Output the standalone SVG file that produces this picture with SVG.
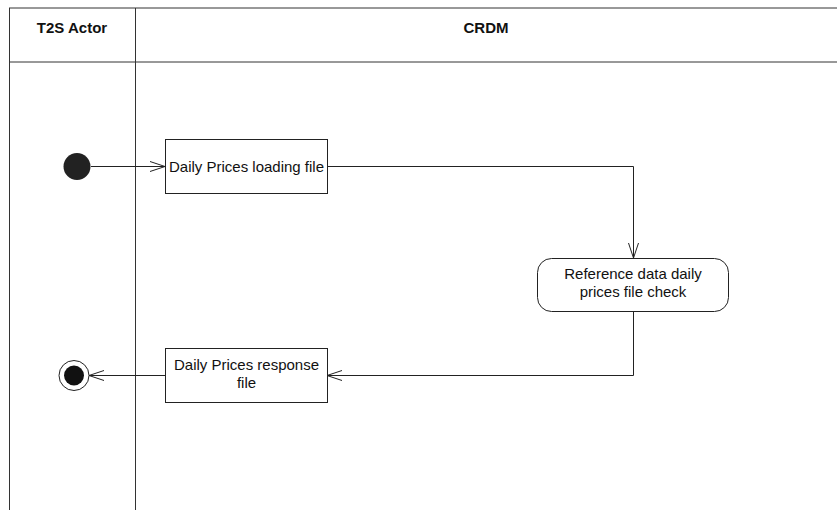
<svg xmlns="http://www.w3.org/2000/svg" width="837" height="510" viewBox="0 0 837 510">
<style>
.lane{stroke:#333;stroke-width:1;fill:none}
.node{fill:#fff;stroke:#222;stroke-width:1}
.t{font-family:"Liberation Sans",Arial,sans-serif;font-size:15px;fill:#111;text-anchor:middle}
.h{font-family:"Liberation Sans",Arial,sans-serif;font-size:15px;font-weight:bold;fill:#111;text-anchor:middle}
.c{stroke:#222;stroke-width:1;fill:none}
</style>
<defs>
<marker id="open" markerWidth="16" markerHeight="12" refX="15" refY="6" orient="auto" markerUnits="userSpaceOnUse">
<path d="M0,1 L15,6 L0,11" fill="none" stroke="#222" stroke-width="1"/>
</marker>
</defs>
<rect width="837" height="510" fill="#fff"/>
<g id="lanes">
<line class="lane" x1="9" y1="8" x2="837" y2="8"/>
<line class="lane" x1="9" y1="62" x2="837" y2="62"/>
<line class="lane" x1="9.5" y1="8" x2="9.5" y2="510"/>
<line class="lane" x1="135.5" y1="8" x2="135.5" y2="510"/>
<text class="h" x="72" y="33">T2S Actor</text>
<text class="h" x="486" y="33">CRDM</text>
</g>
<g id="connectors">
<line class="c" x1="91" y1="166.5" x2="165" y2="166.5" marker-end="url(#open)"/>
<polyline class="c" points="327,166.5 633.5,166.5 633.5,258" marker-end="url(#open)"/>
<polyline class="c" points="633.5,311 633.5,375.5 327,375.5" marker-end="url(#open)"/>
<line class="c" x1="165" y1="375.5" x2="89" y2="375.5" marker-end="url(#open)"/>
</g>
<g id="start">
<circle cx="77" cy="166.5" r="13.5" fill="#222"/>
</g>
<g id="loading">
<rect class="node" x="165.5" y="139.5" width="162" height="54"/>
<text class="t" x="246.5" y="171.5">Daily Prices loading file</text>
</g>
<g id="check">
<rect class="node" x="537.5" y="258.5" width="191" height="53" rx="14" ry="14"/>
<text class="t" x="633" y="279">Reference data daily</text>
<text class="t" x="633" y="297">prices file check</text>
</g>
<g id="response">
<rect class="node" x="165.5" y="348.5" width="162" height="54"/>
<text class="t" x="246.5" y="370">Daily Prices response</text>
<text class="t" x="246.5" y="388">file</text>
</g>
<g id="end">
<circle cx="74" cy="375.5" r="15" fill="#fff" stroke="#222" stroke-width="1"/>
<circle cx="74" cy="375.5" r="10" fill="#111"/>
</g>
</svg>
